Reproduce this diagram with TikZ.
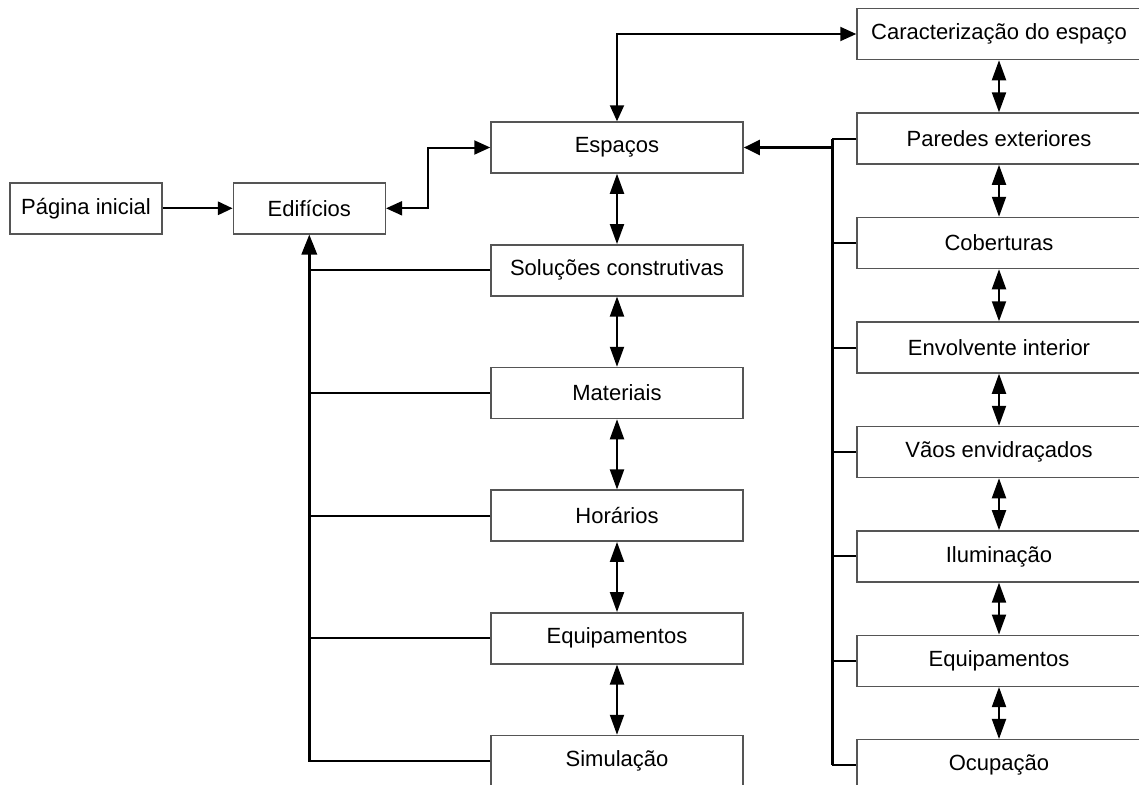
\documentclass[tikz,border=0pt]{standalone}
\usepackage{fontspec}
\setmainfont{Liberation Sans}
\usetikzlibrary{arrows.meta}

\tikzset{every picture/.style={line width=0.75pt}}
\tikzset{
  caixa/.style={draw={rgb,255:red,85;green,85;blue,85}, line width=1.125pt, fill=white,
    minimum height=38.25pt, inner sep=0pt, font=\fontsize{16.5}{19}\selectfont},
  caixaP/.style={caixa, minimum width=114pt},
  caixaM/.style={caixa, minimum width=189pt},
  caixaG/.style={caixa, minimum width=213pt},
  liga/.style={line width=1.5pt},
  seta/.style={liga, -{Triangle[length=11pt,width=10pt]}},
  setaV/.style={liga, {Triangle[length=15pt,width=10.5pt]}-{Triangle[length=15pt,width=10.5pt]}},
  setaD/.style={liga, {Triangle[length=12pt,width=10.5pt]}-{Triangle[length=12pt,width=10.5pt]}}
}

\begin{document}
\begin{tikzpicture}[x=0.75pt,y=0.75pt,yscale=-1,xscale=1]
\useasboundingbox (0,0) rectangle (1139,785);
\clip (0,0) rectangle (1139,785);

%Caixas da esquerda
\node[caixaP] (inicial) at (86,208.3) {Página inicial};
\node[caixaP] (edificios) at (309.3,208.3) {Edifícios};

%Coluna do meio
\node[caixaM] (espacos) at (617,147.5) {Espaços};
\node[caixaM] (solucoes) at (617,270.3) {Soluções construtivas};
\node[caixaM] (materiais) at (617,393) {Materiais};
\node[caixaM] (horarios) at (617,515.7) {Horários};
\node[caixaM] (equipA) at (617,638.3) {Equipamentos};
\node[caixaM] (simulacao) at (617,761) {Simulação};

%Coluna da direita
\node[caixaG] (caract) at (999,34) {Caracterização do espaço};
\node[caixaG] (paredes) at (999,138.6) {Paredes exteriores};
\node[caixaG] (cobert) at (999,243) {Coberturas};
\node[caixaG] (envolv) at (999,347.5) {Envolvente interior};
\node[caixaG] (vaos) at (999,452) {Vãos envidraçados};
\node[caixaG] (ilumin) at (999,556.4) {Iluminação};
\node[caixaG] (equipB) at (999,660.8) {Equipamentos};
\node[caixaG] (ocupacao) at (999,765.2) {Ocupação};

\coordinate (tronco) at (832.7,147.5);

%Ligações principais
\draw[seta] (inicial) -- (edificios);
\draw[setaD] (edificios.east) -- ++(42,0) |- (espacos.west);
\draw[setaD] (espacos.north) |- (caract.west);

%Setas verticais
\foreach \a/\b in {espacos/solucoes,solucoes/materiais,materiais/horarios,horarios/equipA,equipA/simulacao,
  caract/paredes,paredes/cobert,cobert/envolv,envolv/vaos,vaos/ilumin,ilumin/equipB,equipB/ocupacao}
  \draw[setaV] (\a.south) -- (\b.north);

%Tronco da esquerda
\draw[liga, line width=1.8pt, -{Triangle[length=15pt,width=11.5pt]}] (simulacao.west) -| (edificios.south);
\foreach \n in {solucoes,materiais,horarios,equipA}
  \draw[liga] (\n.west) -- (\n.west -| edificios.south);

%Tronco da direita
\draw[liga] (paredes.west) -| (ocupacao.west -| tronco) -- (ocupacao.west);
\draw[liga, line width=2.25pt] (paredes.west -| tronco) -- (ocupacao.west -| tronco);
\foreach \n in {cobert,envolv,vaos,ilumin,equipB}
  \draw[liga] (\n.west) -- (\n.west -| tronco);
\draw[liga, line width=2.25pt, -{Triangle[length=12pt,width=11pt]}] (tronco) -- (espacos.east);

\end{tikzpicture}
\end{document}
